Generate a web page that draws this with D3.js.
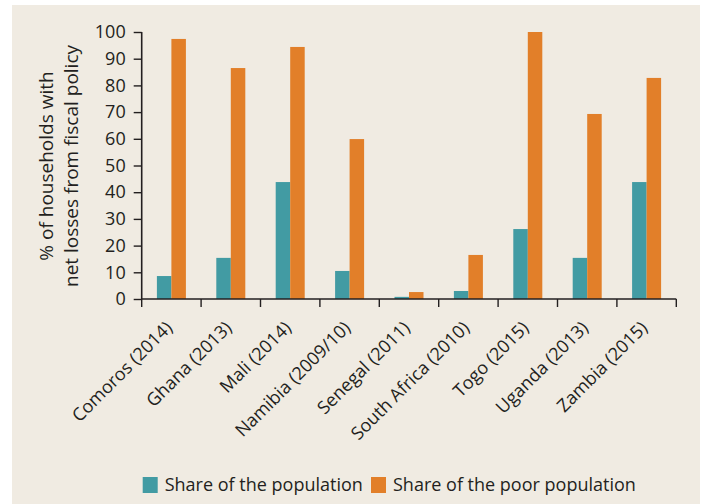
<!DOCTYPE html>
<html>
<head>
<meta charset="utf-8">
<script src="https://cdn.jsdelivr.net/npm/d3@7"></script>
<style>
  html, body { margin: 0; padding: 0; background: #ffffff; }
  svg { display: block; }
  text { font-family: "Open Sans", sans-serif; fill: #231f20; }
</style>
</head>
<body>
<svg id="chart" width="703" height="504"></svg>
<script>
const categories = ["Comoros (2014)", "Ghana (2013)", "Mali (2014)", "Namibia (2009/10)", "Senegal (2011)", "South Africa (2010)", "Togo (2015)", "Uganda (2013)", "Zambia (2015)"];
const sharePopulation = [8.6, 15.4, 43.8, 10.5, 0.8, 3.0, 26.2, 15.4, 43.8];
const sharePoor = [97.4, 86.5, 94.4, 59.9, 2.6, 16.5, 100, 69.3, 82.8];
const seriesNames = ["Share of the population", "Share of the poor population"];
const yTicks = [0, 10, 20, 30, 40, 50, 60, 70, 80, 90, 100];
const yTitle = ["% of households with", "net losses from fiscal policy"];

const colors = ["#429ba3", "#e27f29"];
const svg = d3.select("#chart");

svg.append("rect").attr("x", 12).attr("y", 5).attr("width", 688).attr("height", 499).attr("fill", "#f0ebe2");

const x0 = 141.7, x1 = 676.3, yBottom = 299, yTop = 32;
const x = d3.scaleBand().domain(categories).range([x0, x1]).paddingInner(0).paddingOuter(0);
const y = d3.scaleLinear().domain([0, 100]).range([yBottom, yTop]);
const groupW = 29;
const xs = d3.scaleBand().domain([0, 1]).range([0, groupW]).padding(0);

const series = [sharePopulation, sharePoor];
const g = svg.append("g");
categories.forEach((c, i) => {
  series.forEach((s, k) => {
    g.append("rect")
      .attr("x", x(c) + (x.bandwidth() - groupW) / 2 + xs(k))
      .attr("width", xs.bandwidth())
      .attr("y", y(s[i]))
      .attr("height", y(0) - y(s[i]))
      .attr("fill", colors[k]);
  });
});

// y axis
const yAxis = svg.append("g").attr("transform", `translate(${x0},0)`)
  .call(d3.axisLeft(y).tickValues(yTicks).tickSize(8).tickPadding(8));
yAxis.select(".domain").attr("stroke", "#231f20").attr("stroke-width", 1.6).attr("d", `M0,${yTop}V${yBottom}`);
yAxis.selectAll(".tick line").attr("stroke", "#231f20").attr("stroke-width", 1.4);
yAxis.selectAll(".tick text").attr("font-size", 18).attr("font-family", "Open Sans").attr("fill", "#231f20");

// x axis
const xTickPos = categories.map(c => x(c)).concat([x1]);
const xAxisG = svg.append("g");
xAxisG.append("line").attr("x1", x0).attr("x2", x1).attr("y1", yBottom).attr("y2", yBottom)
  .attr("stroke", "#231f20").attr("stroke-width", 1.6);
xAxisG.selectAll(".xt").data(xTickPos).enter().append("line")
  .attr("x1", d => d).attr("x2", d => d).attr("y1", yBottom).attr("y2", yBottom + 8)
  .attr("stroke", "#231f20").attr("stroke-width", 1.4);
xAxisG.selectAll(".xl").data(categories).enter().append("text")
  .attr("transform", d => `translate(${x(d) + x.bandwidth() / 2 + 2},329) rotate(-45)`)
  .attr("text-anchor", "end")
  .attr("font-size", 18)
  .text(d => d);

// y title
const yt = svg.append("text").attr("transform", "translate(0,166) rotate(-90)").attr("text-anchor", "middle").attr("font-size", 19);
yt.append("tspan").attr("x", 0).attr("y", 53).text(yTitle[0]);
yt.append("tspan").attr("x", 0).attr("y", 78).text(yTitle[1]);

// legend
const legendX = [142.7, 371];
seriesNames.forEach((n, k) => {
  svg.append("rect").attr("x", legendX[k]).attr("y", 477).attr("width", 15).attr("height", 16).attr("fill", colors[k]);
  svg.append("text").attr("x", legendX[k] + 22).attr("y", 491).attr("font-size", 18).text(n);
});
</script>
</body>
</html>
